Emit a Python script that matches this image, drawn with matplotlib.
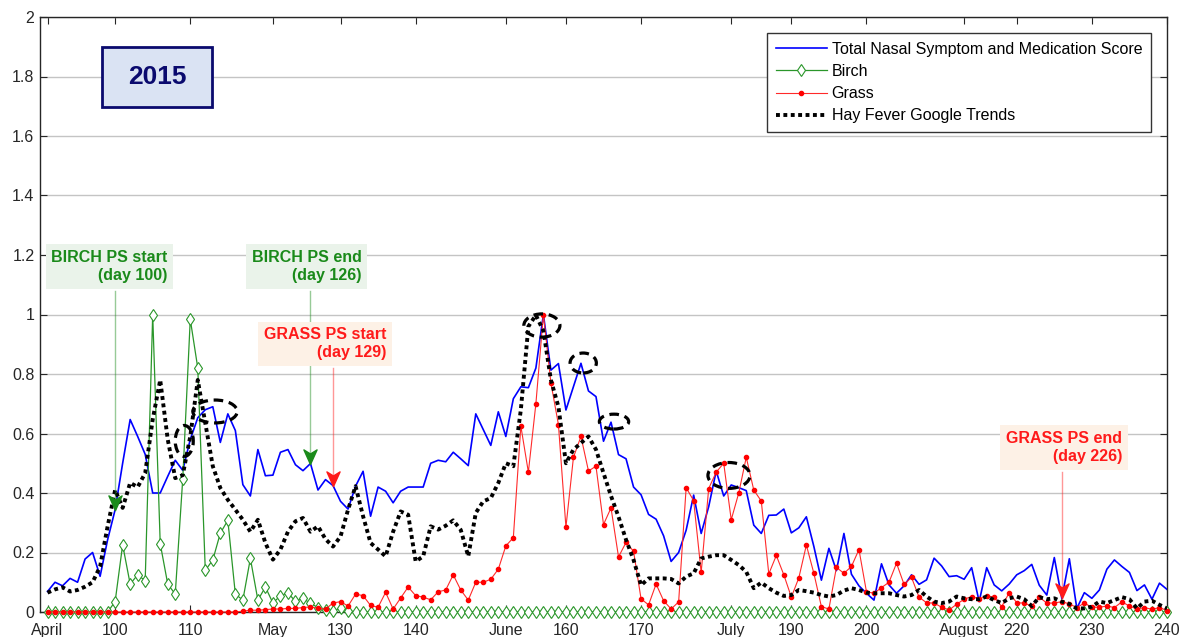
import numpy as np
import matplotlib
matplotlib.use('Agg')
import matplotlib.pyplot as plt
from matplotlib.patches import Ellipse, Rectangle
from matplotlib.path import Path
from matplotlib.ticker import FormatStrFormatter

plt.rcParams['font.family'] = ['Liberation Sans', 'DejaVu Sans']

# day of year, 1 April .. 28 August 2015
days = np.arange(91, 241)

tnss = [
    0.069, 0.100, 0.088, 0.113, 0.100, 0.178, 0.200, 0.120, 0.243, 0.344,
    0.500, 0.647, 0.590, 0.530, 0.400, 0.400, 0.456, 0.510, 0.476, 0.580,
    0.653, 0.680, 0.690, 0.570, 0.666, 0.610, 0.428, 0.390, 0.546, 0.458,
    0.460, 0.537, 0.546, 0.495, 0.475, 0.499, 0.410, 0.445, 0.425, 0.372,
    0.346, 0.423, 0.473, 0.322, 0.420, 0.406, 0.367, 0.406, 0.420, 0.420,
    0.420, 0.500, 0.510, 0.505, 0.537, 0.515, 0.492, 0.666, 0.613, 0.560,
    0.673, 0.590, 0.717, 0.757, 0.754, 0.820, 1.000, 0.813, 0.835, 0.679,
    0.757, 0.836, 0.743, 0.724, 0.574, 0.638, 0.529, 0.515, 0.420, 0.394,
    0.328, 0.312, 0.256, 0.170, 0.200, 0.275, 0.393, 0.264, 0.354, 0.474,
    0.390, 0.427, 0.418, 0.408, 0.292, 0.264, 0.325, 0.326, 0.346, 0.266,
    0.283, 0.320, 0.220, 0.107, 0.214, 0.139, 0.264, 0.127, 0.088, 0.063,
    0.040, 0.162, 0.091, 0.063, 0.088, 0.125, 0.093, 0.108, 0.181, 0.155,
    0.119, 0.122, 0.110, 0.149, 0.035, 0.149, 0.091, 0.071, 0.094, 0.125,
    0.139, 0.160, 0.090, 0.057, 0.183, 0.046, 0.179, 0.012, 0.065, 0.046,
    0.074, 0.144, 0.175, 0.153, 0.133, 0.072, 0.091, 0.043, 0.097, 0.076,
]

birch = [
    0.0, 0.0, 0.0, 0.0, 0.0, 0.0, 0.0, 0.0, 0.0, 0.035,
    0.226, 0.094, 0.125, 0.105, 1.000, 0.230, 0.094, 0.060, 0.448, 0.984,
    0.820, 0.140, 0.175, 0.265, 0.308, 0.060, 0.040, 0.180, 0.040, 0.084,
    0.030, 0.055, 0.064, 0.036, 0.046, 0.029, 0.015, 0.008, 0.005, 0.012,
    0.005, 0.0, 0.0, 0.0, 0.0, 0.0, 0.0, 0.0, 0.0, 0.0,
] + [0.0] * 100

grass = [
    0.0, 0.0, 0.0, 0.0, 0.0, 0.0, 0.0, 0.0, 0.0, 0.0,
    0.0, 0.0, 0.0, 0.0, 0.0, 0.0, 0.0, 0.0, 0.0, 0.0,
    0.0, 0.0, 0.0, 0.0, 0.0, 0.0, 0.003, 0.006, 0.006, 0.008,
    0.010, 0.010, 0.012, 0.012, 0.015, 0.017, 0.012, 0.010, 0.030, 0.035,
    0.020, 0.060, 0.055, 0.022, 0.016, 0.066, 0.010, 0.047, 0.084, 0.055,
    0.050, 0.041, 0.068, 0.074, 0.125, 0.074, 0.040, 0.100, 0.100, 0.110,
    0.144, 0.222, 0.250, 0.625, 0.470, 0.700, 1.000, 0.770, 0.630, 0.285,
    0.520, 0.590, 0.474, 0.490, 0.294, 0.350, 0.185, 0.234, 0.204, 0.044,
    0.024, 0.094, 0.038, 0.010, 0.034, 0.418, 0.374, 0.133, 0.415, 0.470,
    0.500, 0.310, 0.400, 0.520, 0.410, 0.373, 0.128, 0.190, 0.125, 0.050,
    0.115, 0.225, 0.130, 0.018, 0.010, 0.150, 0.130, 0.153, 0.210, 0.068,
    0.063, 0.082, 0.100, 0.164, 0.093, 0.116, 0.050, 0.031, 0.030, 0.016,
    0.007, 0.026, 0.043, 0.052, 0.044, 0.054, 0.050, 0.018, 0.065, 0.031,
    0.030, 0.020, 0.050, 0.030, 0.030, 0.035, 0.027, 0.015, 0.030, 0.016,
    0.016, 0.020, 0.015, 0.034, 0.020, 0.010, 0.015, 0.009, 0.015, 0.005,
]

trends = [
    0.065, 0.076, 0.083, 0.069, 0.074, 0.085, 0.100, 0.153, 0.288, 0.410,
    0.350, 0.434, 0.420, 0.467, 0.647, 0.780, 0.580, 0.450, 0.460, 0.590,
    0.780, 0.636, 0.490, 0.417, 0.377, 0.344, 0.310, 0.270, 0.310, 0.232,
    0.176, 0.210, 0.270, 0.305, 0.316, 0.270, 0.288, 0.245, 0.220, 0.254,
    0.344, 0.423, 0.322, 0.232, 0.210, 0.187, 0.270, 0.338, 0.327, 0.170,
    0.187, 0.288, 0.277, 0.290, 0.308, 0.276, 0.187, 0.333, 0.372, 0.383,
    0.434, 0.500, 0.490, 0.680, 0.960, 0.998, 0.945, 0.780, 0.690, 0.500,
    0.546, 0.568, 0.590, 0.546, 0.467, 0.390, 0.320, 0.243, 0.175, 0.090,
    0.113, 0.113, 0.113, 0.111, 0.096, 0.119, 0.130, 0.180, 0.186, 0.191,
    0.191, 0.175, 0.158, 0.135, 0.080, 0.099, 0.080, 0.065, 0.054, 0.057,
    0.074, 0.070, 0.065, 0.057, 0.052, 0.057, 0.072, 0.080, 0.074, 0.065,
    0.063, 0.063, 0.063, 0.057, 0.052, 0.057, 0.074, 0.052, 0.035, 0.030,
    0.035, 0.052, 0.046, 0.043, 0.043, 0.052, 0.040, 0.030, 0.046, 0.052,
    0.043, 0.020, 0.050, 0.043, 0.046, 0.035, 0.027, 0.012, 0.012, 0.018,
    0.035, 0.030, 0.040, 0.050, 0.043, 0.012, 0.035, 0.038, 0.024, 0.012,
]

xtick_pos = [91, 100, 110, 121, 130, 140, 152, 160, 170, 182, 190, 200, 213, 220, 230, 240]
xtick_lab = ['April', '100', '110', 'May', '130', '140', 'June', '160', '170',
             'July', '190', '200', 'August', '220', '230', '240']

# pollen season markers: (label, day, text anchor x, text anchor y, colour, box colour, box bottom)
season_marks = [
    ('BIRCH PS start\n(day 100)', 100, 107.0, 1.161, '#1a8a1a', '#eaf3ea', 1.079),
    ('BIRCH PS end\n(day 126)', 126, 132.8, 1.161, '#1a8a1a', '#eaf3ea', 1.079),
    ('GRASS PS start\n(day 129)', 129, 136.1, 0.901, '#ff1a1a', '#fdf1e6', 0.820),
    ('GRASS PS end\n(day 226)', 226, 234.0, 0.553, '#ff1a1a', '#fdf1e6', 0.470),
]

# dashed rings around the symptom peaks (centre day, centre value, width, height)
rings = [
    (109.2, 0.575, 2.4, 0.104),
    (113.3, 0.674, 5.9, 0.077),
    (156.8, 0.963, 4.8, 0.078),
    (162.3, 0.837, 3.5, 0.067),
    (166.4, 0.640, 3.9, 0.050),
    (181.7, 0.459, 5.6, 0.087),
]

W, H = 1183, 637
fig = plt.figure(figsize=(W / 100, H / 100), dpi=100)
ax = fig.add_axes([40 / W, 25 / H, 1127 / W, 595 / H])

ax.plot(days, tnss, color='#0000ff', lw=1.2, label='Total Nasal Symptom and Medication Score', zorder=3)
ax.plot(days, birch, color='#2a962a', lw=0.9, marker='d', ms=6.5, mfc='white', mec='#2a962a',
        mew=0.8, label='Birch', zorder=4, clip_on=False)
ax.plot(days, grass, color='#ff2a2a', lw=0.8, marker='.', ms=6, mfc='#ff0000', mec='#ff0000',
        label='Grass', zorder=5, clip_on=False)
ax.plot(days, trends, color='black', lw=2.8, ls=(0, (1, 0.9)), label='Hay Fever Google Trends', zorder=6)

for cx, cy, w, h in rings:
    ax.add_patch(Ellipse((cx, cy), w, h, fill=False, ec='black', lw=2.3, ls=(0, (3, 1.8)), zorder=7))

# notched arrowhead, tip at origin
head = Path([(0, 0), (-0.45, 1.0), (0, 0.72), (0.45, 1.0), (0, 0)],
            [Path.MOVETO, Path.LINETO, Path.LINETO, Path.LINETO, Path.CLOSEPOLY])

tnss_by_day = dict(zip(days, tnss))
for text, day, tx, ty, col, bg, ybot in season_marks:
    tip = tnss_by_day[day]
    ax.plot([day, day], [ybot, tip], color=col, lw=1.0, alpha=0.45, zorder=8)
    ax.plot(day, tip, marker=head, ms=21, color=col, mec=col, zorder=9)
    ax.text(tx, ty, text, ha='right', va='center', multialignment='right', color=col,
            fontsize=11.5, fontweight='bold', linespacing=1.25, zorder=10,
            bbox=dict(boxstyle='square,pad=0.36', fc=bg, ec='none'))

# year badge
ax.add_patch(Rectangle((98.26, 1.697), 14.64, 0.202, fc='#dae3f3', ec='#0a0a6e', lw=2, zorder=10))
ax.text(105.6, 1.798, '2015', ha='center', va='center', color='#0a0a6e', fontsize=19,
        fontweight='bold', zorder=11)

ax.set_xlim(90, 240)
ax.set_ylim(0, 2)
ax.set_xticks(xtick_pos)
ax.set_xticklabels(xtick_lab)
ax.set_yticks(np.arange(0, 2.01, 0.2))
ax.yaxis.set_major_formatter(FormatStrFormatter('%g'))
ax.tick_params(direction='in', top=True, right=True, length=5, width=0.8, labelsize=11.5, pad=4,
               colors='#262626')
ax.tick_params(axis='x', pad=8)
ax.grid(axis='y', color='#c4c4c4', lw=1)
ax.set_axisbelow(True)
for s in ax.spines.values():
    s.set_linewidth(1.0)
    s.set_color('#262626')

ax.legend(loc='upper right', fontsize=11.5, frameon=True, fancybox=False, edgecolor='#333333',
          framealpha=1, handlelength=3.2, labelspacing=0.45, borderaxespad=1.0,
          borderpad=0.55, handletextpad=0.3)

fig.savefig('out.png', dpi=100)
